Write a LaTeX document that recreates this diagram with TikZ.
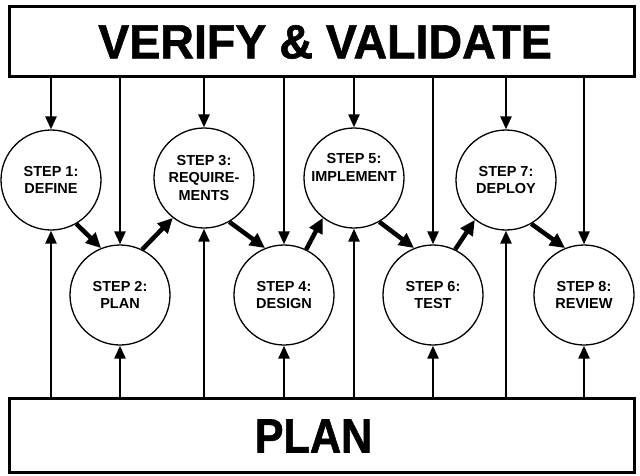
\documentclass[tikz,border=0pt]{standalone}
\usepackage{fontspec}
\setmainfont{Liberation Sans}
\newfontfamily\heavyfont{Liberation Sans}[BoldFeatures={FakeBold=1.2}]
\usetikzlibrary{arrows.meta}
\begin{document}
\begin{tikzpicture}[x=1pt,y=-1pt,
  stepnode/.style={circle,draw,line width=1.3pt,minimum size=100pt,inner sep=0pt,align=center,font=\fontsize{14.5}{17.5}\selectfont\bfseries},
  bigbox/.style={draw,line width=3pt,minimum width=625pt,inner sep=0pt},
  bigtext/.style={font=\heavyfont\fontsize{48}{48}\selectfont\bfseries,inner sep=0pt},
  vline/.style={line width=2.6pt,-{Triangle[length=13pt,width=11pt]}},
  flow/.style={line width=4.5pt,-{Triangle[length=15pt,width=14pt]}}]
\useasboundingbox (0,0) rectangle (640,475);
% boxes
\node[bigbox,minimum height=70pt] (T) at (321.5,41) {};
\node[bigbox,minimum height=74pt] (B) at (322,435) {};
\node[bigtext,xscale=0.97] (VT) at (325,42) {VERIFY \& VALIDATE};
\node[bigtext,xscale=0.9] (PT) at (313.5,436) {PLAN};
% steps
\node[stepnode] (S1) at (51,180) {STEP 1:\\DEFINE};
\node[stepnode] (S2) at (120,295) {STEP 2:\\PLAN};
\node[stepnode] (S3) at (204,178) {STEP 3:\\REQUIRE-\\MENTS};
\node[stepnode] (S4) at (284,295) {STEP 4:\\DESIGN};
\node[stepnode] (S5) at (354,178) {STEP 5:\\IMPLEMENT\\[4pt]};
\node[stepnode] (S6) at (433,295) {STEP 6:\\TEST};
\node[stepnode] (S7) at (506,180) {STEP 7:\\DEPLOY};
\node[stepnode] (S8) at (584,295) {STEP 8:\\REVIEW};
% verify arrows
\foreach \s in {S1,S2,S3,S4,S5,S6,S7,S8}{
  \draw[vline] (T.south -| \s) -- (\s.north);
  \draw[vline] (B.north -| \s) -- (\s.south);
}
% flow arrows
\draw[flow] (S1.-60) -- (S2.112);
\draw[flow] (S2.64) -- (S3.232);
\draw[flow] (S3.-60) -- (S4.112);
\draw[flow] (S4.64) -- (S5.232);
\draw[flow] (S5.-60) -- (S6.112);
\draw[flow] (S6.64) -- (S7.232);
\draw[flow] (S7.-60) -- (S8.112);
\end{tikzpicture}
\end{document}
